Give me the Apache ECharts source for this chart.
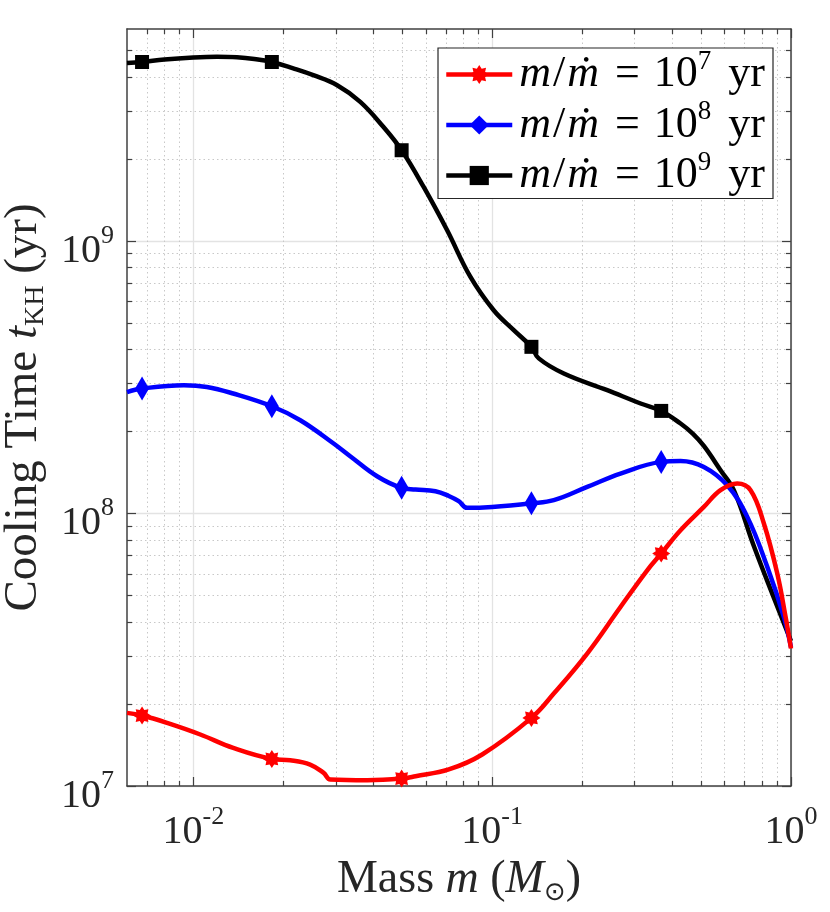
<!DOCTYPE html>
<html>
<head>
<meta charset="utf-8">
<script src="https://cdn.jsdelivr.net/npm/echarts@6/dist/echarts.min.js"></script>
<style>
html, body { margin: 0; padding: 0; background: #fff; }
#main { width: 830px; height: 912px; }
</style>
</head>
<body>
<div id="main"></div>
<script>
// data: [mass (Msun), cooling time (yr)]
var seriesNames = ['m/ṁ = 10^7 yr', 'm/ṁ = 10^8 yr', 'm/ṁ = 10^9 yr'];
var markerMass = [0.006738, 0.018316, 0.049787, 0.135335, 0.367879];

var cool7 = [
  [0.0060, 1.855e7], [0.006738, 1.814e7], [0.00817, 1.704e7], [0.01055, 1.545e7],
  [0.0136, 1.379e7], [0.018316, 1.257e7], [0.0211, 1.243e7], [0.0246, 1.199e7],
  [0.0273, 1.117e7], [0.02875, 1.056e7], [0.0382, 1.050e7], [0.049787, 1.065e7],
  [0.0554, 1.086e7], [0.0716, 1.150e7], [0.0926, 1.305e7], [0.135335, 1.778e7],
  [0.1608, 2.185e7], [0.208, 3.063e7], [0.2688, 4.54e7], [0.3303, 6.19e7],
  [0.367879, 7.13e7], [0.4270, 8.68e7], [0.5110, 1.057e8], [0.5810, 1.218e8],
  [0.6609, 1.289e8], [0.7324, 1.218e8], [0.8115, 9.19e7], [0.8996, 6.02e7],
  [0.9592, 4.17e7], [1.0, 3.196e7]
];
var cool8 = [
  [0.0060, 2.79e8], [0.006738, 2.875e8], [0.0093, 2.957e8], [0.0111, 2.915e8],
  [0.0136, 2.757e8], [0.018316, 2.476e8], [0.0228, 2.20e8], [0.0294, 1.811e8],
  [0.0335, 1.623e8], [0.0412, 1.370e8], [0.049787, 1.242e8], [0.0554, 1.225e8],
  [0.0646, 1.207e8], [0.0716, 1.16e8], [0.0773, 1.11e8], [0.0825, 1.049e8],
  [0.1, 1.057e8], [0.135335, 1.09e8], [0.1608, 1.119e8], [0.208, 1.252e8],
  [0.2688, 1.402e8], [0.367879, 1.547e8], [0.4270, 1.56e8], [0.5110, 1.483e8],
  [0.6117, 1.27e8], [0.7141, 9.72e7], [0.8330, 6.37e7], [0.9467, 4.17e7],
  [1.0, 3.23e7]
];
var cool9 = [
  [0.0060, 4.50e9], [0.006738, 4.54e9], [0.0080, 4.64e9], [0.0100, 4.72e9],
  [0.0120, 4.75e9], [0.0140, 4.73e9], [0.0160, 4.66e9], [0.018316, 4.54e9],
  [0.0216, 4.30e9], [0.0252, 4.06e9], [0.0303, 3.73e9], [0.0362, 3.24e9],
  [0.0433, 2.62e9], [0.049787, 2.154e9], [0.0590, 1.579e9], [0.0707, 1.095e9],
  [0.0846, 7.38e8], [0.1012, 5.57e8], [0.1181, 4.71e8], [0.135335, 4.09e8],
  [0.1432, 3.71e8], [0.1737, 3.265e8], [0.2427, 2.835e8], [0.3139, 2.534e8],
  [0.367879, 2.38e8], [0.4270, 2.139e8], [0.4700, 1.96e8], [0.5110, 1.77e8],
  [0.5810, 1.442e8], [0.6437, 1.218e8], [0.7510, 7.6e7], [0.8766, 4.9e7], [1.0, 3.4e7]
];

var xMajorTicks = [0.01, 0.1, 1];
var xMinorTicks = [0.007, 0.008, 0.009, 0.02, 0.03, 0.04, 0.05, 0.06, 0.07, 0.08, 0.09,
                   0.2, 0.3, 0.4, 0.5, 0.6, 0.7, 0.8, 0.9];
var yMajorTicks = [1e7, 1e8, 1e9];
var yMinorTicks = [2e7, 3e7, 4e7, 5e7, 6e7, 7e7, 8e7, 9e7,
                   2e8, 3e8, 4e8, 5e8, 6e8, 7e8, 8e8, 9e8,
                   2e9, 3e9, 4e9, 5e9];

var serif = 'Liberation Serif, DejaVu Serif, serif';
var ink = '#262626';
var axisColor = '#404040';

// asterisk-like star for the '*' marker
var starPts = [];
for (var k = 0; k < 16; k++) {
  var a = k * Math.PI / 8 - Math.PI / 2;
  var r = k % 2 === 0 ? 50 : 33;
  starPts.push((50 + r * Math.cos(a)).toFixed(2) + ' ' + (50 + r * Math.sin(a)).toFixed(2));
}
var starPath = 'path://M' + starPts.join(' L') + ' Z';

function isMarker(x) {
  return markerMass.some(function (m) { return Math.abs(x - m) / m < 0.005; });
}

function lineSeries(name, pts, color, sym, size, z) {
  return {
    type: 'line',
    name: name,
    data: pts.map(function (p) {
      return { value: p, symbol: isMarker(p[0]) ? sym : 'none' };
    }),
    symbol: sym,
    symbolSize: size,
    showAllSymbol: true,
    smooth: 0.4,
    lineStyle: { color: color, width: 4.5 },
    itemStyle: { color: color },
    z: z
  };
}

var tickRich = {
  b: { fontFamily: serif, fontSize: 40, lineHeight: 56, verticalAlign: 'middle', color: ink },
  s: { fontFamily: serif, fontSize: 26, lineHeight: 26, verticalAlign: 'top', color: ink }
};

function expLabel(v) {
  var e = Math.round(Math.log(v) / Math.LN10);
  return '{b|10}{s|' + e + '}';
}

function xAxisDef(pos, major) {
  var bottomMajor = pos === 'bottom' && major;
  return {
    type: 'log', position: pos, min: 0.006, max: 1,
    axisLine: { show: major, lineStyle: { color: axisColor, width: 1.5 } },
    axisTick: { show: true, inside: true, length: major ? 9 : 5,
      customValues: major ? xMajorTicks : xMinorTicks,
      lineStyle: { color: axisColor, width: 1.2 } },
    axisLabel: { show: bottomMajor, customValues: xMajorTicks, margin: 18,
      formatter: expLabel, rich: tickRich },
    splitLine: { show: pos === 'bottom',
      lineStyle: major ? { color: '#e3e3e3', width: 1.3 }
                       : { color: '#c8c8c8', width: 1, type: [1.5, 3] } },
    name: bottomMajor ? '{r|Mass }{i|m}{r| (}{i|M}{o|⊙}{r|)}' : '',
    nameLocation: 'middle', nameGap: 64,
    nameTextStyle: { rich: {
      r: { fontFamily: serif, fontSize: 46, lineHeight: 52, color: ink },
      i: { fontFamily: serif, fontStyle: 'italic', fontSize: 46, lineHeight: 52, color: ink },
      o: { fontFamily: 'DejaVu Sans', fontSize: 26, lineHeight: 30, verticalAlign: 'bottom', color: ink }
    } }
  };
}

function yAxisDef(pos, major) {
  var leftMajor = pos === 'left' && major;
  return {
    type: 'log', position: pos, min: 1e7, max: 6e9,
    axisLine: { show: major, lineStyle: { color: axisColor, width: 1.5 } },
    axisTick: { show: true, inside: true, length: major ? 9 : 5,
      customValues: major ? yMajorTicks : yMinorTicks,
      lineStyle: { color: axisColor, width: 1.2 } },
    axisLabel: { show: leftMajor, customValues: yMajorTicks, margin: 13,
      padding: [20, 0, 0, 0], formatter: expLabel, rich: tickRich },
    splitLine: { show: pos === 'left',
      lineStyle: major ? { color: '#e3e3e3', width: 1.3 }
                       : { color: '#c8c8c8', width: 1, type: [1.5, 3] } },
    name: leftMajor ? '{r|Cooling Time }{i|t}{k|KH}{r| (yr)}' : '',
    nameLocation: 'middle', nameGap: 74,
    nameTextStyle: { rich: {
      r: { fontFamily: serif, fontSize: 47, lineHeight: 52, color: ink },
      i: { fontFamily: serif, fontStyle: 'italic', fontSize: 47, lineHeight: 52, color: ink },
      k: { fontFamily: serif, fontSize: 28, lineHeight: 28, verticalAlign: 'bottom', color: ink }
    } }
  };
}

var legendRich = {
  i: { fontFamily: serif, fontStyle: 'italic', fontSize: 44, lineHeight: 42, verticalAlign: 'middle',
       padding: [0, 2, 0, 2], color: '#000' },
  n: { fontFamily: serif, fontSize: 44, lineHeight: 42, verticalAlign: 'middle', color: '#000' },
  e: { fontFamily: serif, fontSize: 44, lineHeight: 42, verticalAlign: 'middle',
       padding: [0, 3, 0, 3], color: '#000' },
  y: { fontFamily: serif, fontSize: 44, lineHeight: 42, verticalAlign: 'middle',
       padding: [0, 0, 0, 6], color: '#000' },
  s: { fontFamily: serif, fontSize: 27, height: 16, lineHeight: 16, verticalAlign: 'top', color: '#000' }
};

var myChart = echarts.init(document.getElementById('main'));

var option = {
  backgroundColor: '#fff',
  animation: false,
  grid: { left: 127, right: 39, top: 29, bottom: 126, outerBoundsMode: 'none' },
  legend: {
    data: seriesNames,
    orient: 'vertical',
    right: 57, top: 48,
    itemWidth: 66, itemHeight: 24, itemGap: 2,
    padding: [0, 8, 1, 6],
    backgroundColor: '#fff',
    borderColor: ink, borderWidth: 1.2, borderRadius: 0,
    lineStyle: { width: 4.5 },
    formatter: function (name) {
      var m = name.match(/\^(\d+)/);
      return '{i|m}{n|/}{i|ṁ}{n| }{e|=}{n| 10}{s|' + m[1] + '}{y| yr}';
    },
    textStyle: { rich: legendRich }
  },
  xAxis: [xAxisDef('bottom', true), xAxisDef('bottom', false), xAxisDef('top', true), xAxisDef('top', false)],
  yAxis: [yAxisDef('left', true), yAxisDef('left', false), yAxisDef('right', true), yAxisDef('right', false)],
  series: [
    lineSeries(seriesNames[0], cool7, '#ff0000', starPath, 18, 4),
    lineSeries(seriesNames[1], cool8, '#0000ff', 'diamond', [14, 24], 3),
    lineSeries(seriesNames[2], cool9, '#000000', 'rect', 14, 2)
  ]
};

myChart.setOption(option);
</script>
</body>
</html>
